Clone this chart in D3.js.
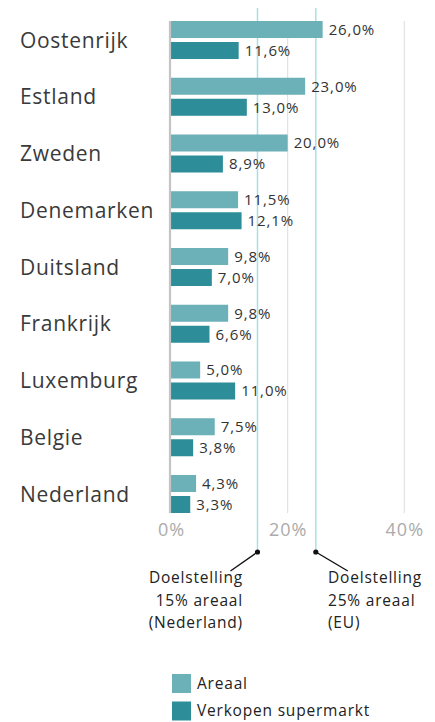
<!DOCTYPE html>
<html>
<head>
<meta charset="utf-8">
<script src="https://cdn.jsdelivr.net/npm/d3@7"></script>
<style>
  html, body { margin: 0; padding: 0; background: #fff; }
  svg { display: block; font-family: "Open Sans", "Noto Sans", sans-serif; }
</style>
</head>
<body>
<svg id="chart" width="435" height="722"></svg>
<script>
const categories = ["Oostenrijk", "Estland", "Zweden", "Denemarken", "Duitsland", "Frankrijk", "Luxemburg", "Belgie", "Nederland"];
const seriesNames = ["Areaal", "Verkopen supermarkt"];
const areaal = [26.0, 23.0, 20.0, 11.5, 9.8, 9.8, 5.0, 7.5, 4.3];
const verkopen = [11.6, 13.0, 8.9, 12.1, 7.0, 6.6, 11.0, 3.8, 3.3];
const xTicks = [0, 20, 40];
const targets = [
  { value: 15, lines: ["Doelstelling", "15% areaal", "(Nederland)"], side: "left" },
  { value: 25, lines: ["Doelstelling", "25% areaal", "(EU)"], side: "right" }
];
const colors = ["#6db1b8", "#2d8e99"];

const svg = d3.select("#chart");
const x = d3.scaleLinear().domain([0, 40]).range([171, 404.3]);
const y = d3.scaleBand().domain(categories).range([21, 513]).paddingInner(0.33).paddingOuter(0);
const yInner = d3.scaleBand().domain(seriesNames).range([0, y.bandwidth()]).paddingInner(4 / 21).paddingOuter(0);
const plotTop = 21, plotBottom = 513;

// gridlines
svg.append("g").selectAll("line").data(xTicks.filter(d => d > 0)).join("line")
  .attr("x1", d => x(d)).attr("x2", d => x(d))
  .attr("y1", plotTop).attr("y2", plotBottom)
  .attr("stroke", "#e2e2e2").attr("stroke-width", 1.2);

// target lines
svg.append("g").selectAll("line").data(targets).join("line")
  .attr("x1", d => x(d.value) - 1).attr("x2", d => x(d.value) - 1)
  .attr("y1", 8).attr("y2", 552)
  .attr("stroke", "#a6e2e3").attr("stroke-width", 1.5);

// bars
const data = categories.map((c, i) => ({ cat: c, values: [areaal[i], verkopen[i]] }));
const groups = svg.append("g").selectAll("g").data(data).join("g")
  .attr("transform", d => `translate(0,${y(d.cat)})`);
groups.selectAll("rect").data(d => d.values.map((v, j) => ({ v, s: seriesNames[j], j }))).join("rect")
  .attr("x", x(0)).attr("y", d => yInner(d.s))
  .attr("width", d => x(d.v) - x(0)).attr("height", yInner.bandwidth())
  .attr("fill", d => colors[d.j]);
groups.selectAll("text.val").data(d => d.values.map((v, j) => ({ v, s: seriesNames[j], j }))).join("text")
  .attr("class", "val")
  .attr("x", d => x(d.v) + 6).attr("y", d => yInner(d.s) + yInner.bandwidth() / 2)
  .attr("dy", "0.36em")
  .attr("font-size", 15).attr("letter-spacing", 0.9).attr("fill", "#333")
  .text(d => d.v.toFixed(1).replace(".", ",") + "%");

// category labels
svg.append("g").selectAll("text").data(categories).join("text")
  .attr("x", 20).attr("y", d => y(d) + y.bandwidth() / 2)
  .attr("dy", "0.36em")
  .attr("font-size", 21).attr("letter-spacing", 0.7).attr("fill", "#3a3a3a")
  .text(d => d);

// y axis line
svg.append("line").attr("x1", 170).attr("x2", 170).attr("y1", plotTop).attr("y2", plotBottom)
  .attr("stroke", "#c4c4c4").attr("stroke-width", 2.2);

// x axis tick labels
const xAxis = d3.axisBottom(x).tickValues(xTicks).tickFormat(d => d + "%").tickSize(0).tickPadding(0);
const gx = svg.append("g").attr("transform", "translate(0,523)").call(xAxis);
gx.select(".domain").remove();
gx.selectAll("text").attr("font-size", 18).attr("letter-spacing", 1).attr("fill", "#ababab")
  .attr("font-family", "\"Open Sans\", \"Noto Sans\", sans-serif")
  .attr("dy", "0.71em");

// annotations
targets.forEach(t => {
  const lx = x(t.value) - 1;
  const dotY = 552;
  const endX = t.side === "left" ? lx - 27 : lx + 32;
  const endY = 571;
  svg.append("line").attr("x1", lx).attr("y1", dotY).attr("x2", endX).attr("y2", endY)
    .attr("stroke", "#111").attr("stroke-width", 1.4);
  svg.append("circle").attr("cx", lx).attr("cy", dotY).attr("r", 2.6).attr("fill", "#111");
  const tx = t.side === "left" ? 243 : 328;
  const anchor = t.side === "left" ? "end" : "start";
  const txt = svg.append("text").attr("font-size", 15.5).attr("letter-spacing", 0.8)
    .attr("fill", "#222").attr("text-anchor", anchor);
  t.lines.forEach((l, i) => {
    txt.append("tspan").attr("x", tx).attr("y", 583 + i * 22.5).text(l);
  });
});

// legend
const legend = svg.append("g").selectAll("g").data(seriesNames).join("g")
  .attr("transform", (d, i) => `translate(172,${674 + i * 27.5})`);
legend.append("rect").attr("width", 19).attr("height", 19).attr("fill", (d, i) => colors[i]);
legend.append("text").attr("x", 25).attr("y", 9.5).attr("dy", "0.34em")
  .attr("font-size", 15.5).attr("letter-spacing", 0.8).attr("fill", "#222").text(d => d);
</script>
</body>
</html>
